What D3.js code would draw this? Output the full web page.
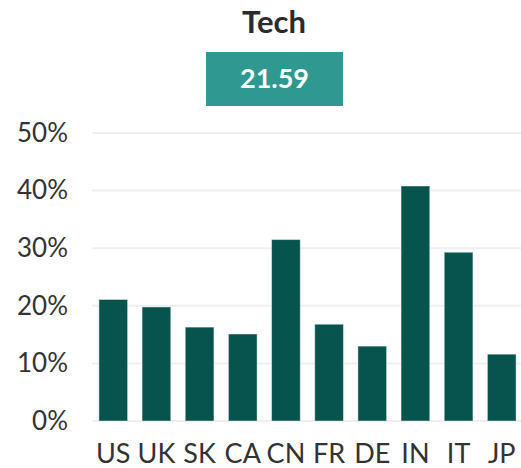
<!DOCTYPE html>
<html>
<head>
<meta charset="utf-8">
<script src="https://cdn.jsdelivr.net/npm/d3@7"></script>
<style>
  body { margin: 0; background: #fff; }
  svg { display: block; font-family: Lato, "Open Sans", sans-serif; }
</style>
</head>
<body>
<div id="chart"></div>
<script>
// data
var countries = ['US', 'UK', 'SK', 'CA', 'CN', 'FR', 'DE', 'IN', 'IT', 'JP'];
var values = [21.1, 19.8, 16.3, 15.1, 31.5, 16.8, 13.0, 40.8, 29.3, 11.6];
var yTicks = [0, 10, 20, 30, 40, 50];
var title = 'Tech';
var score = '21.59';

var width = 521,
    height = 468,
    margin = { top: 133, right: 0, bottom: 47, left: 92 };

var svg = d3.select('#chart').append('svg')
    .attr('width', width)
    .attr('height', height);

// title + badge
svg.append('text')
    .attr('x', 274).attr('y', 33)
    .attr('text-anchor', 'middle')
    .style('font-size', '31px').style('font-weight', 700)
    .style('fill', '#2b2b2b')
    .text(title);

svg.append('rect')
    .attr('x', 206).attr('y', 52)
    .attr('width', 137).attr('height', 54)
    .attr('fill', '#2f9890');

svg.append('text')
    .attr('x', 274.5).attr('y', 88)
    .attr('text-anchor', 'middle')
    .style('font-size', '27px').style('font-weight', 700)
    .style('fill', '#fff')
    .text(score);

var x = d3.scaleBand()
    .domain(countries)
    .range([margin.left, 523])
    .paddingInner(0.335)
    .paddingOuter(0.16);

var y = d3.scaleLinear()
    .domain([0, 50])
    .range([height - margin.bottom, margin.top]);

// grid lines
svg.append('g').selectAll('line')
    .data(yTicks)
    .enter().append('line')
    .attr('x1', margin.left).attr('x2', width)
    .attr('y1', function (d) { return y(d); })
    .attr('y2', function (d) { return y(d); })
    .attr('stroke', '#efefef')
    .attr('stroke-width', 2);

// y axis labels
var yAxis = svg.append('g')
    .attr('transform', 'translate(68,0)')
    .call(d3.axisLeft(y).tickValues(yTicks).tickSize(0).tickPadding(0)
        .tickFormat(function (d) { return d + '%'; }));
yAxis.select('.domain').remove();
yAxis.selectAll('text')
    .style('font-family', 'Lato, "Open Sans", sans-serif')
    .style('font-size', '26px')
    .style('fill', '#333');

// bars
svg.append('g').selectAll('rect')
    .data(values)
    .enter().append('rect')
    .attr('x', function (d, i) { return x(countries[i]); })
    .attr('width', x.bandwidth())
    .attr('y', function (d) { return y(d); })
    .attr('height', function (d) { return y(0) - y(d); })
    .attr('fill', '#07534e')
    .attr('stroke', '#fff')
    .attr('stroke-opacity', 0.45)
    .attr('stroke-width', 1);

// x axis labels
var xAxis = svg.append('g')
    .attr('transform', 'translate(0,' + (height - margin.bottom) + ')')
    .call(d3.axisBottom(x).tickSize(0).tickPadding(23));
xAxis.select('.domain').remove();
xAxis.selectAll('text')
    .style('font-family', 'Lato, "Open Sans", sans-serif')
    .style('font-size', '27px')
    .style('fill', '#333');
</script>
</body>
</html>
